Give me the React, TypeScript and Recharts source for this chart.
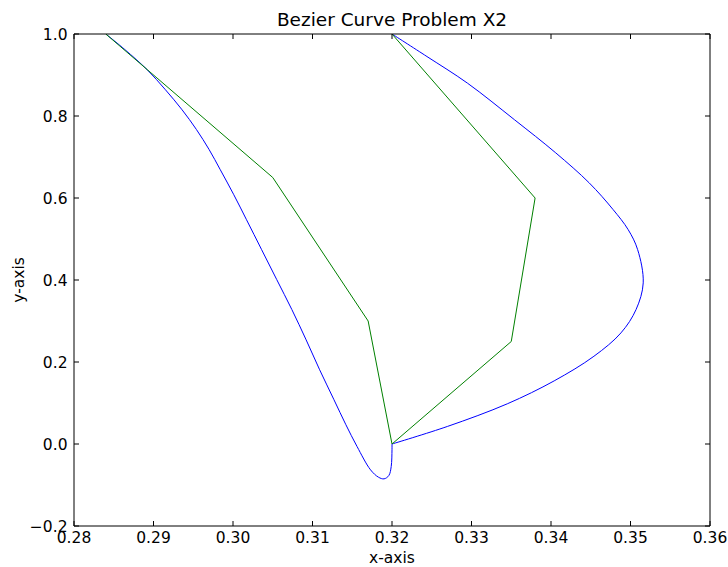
import { LineChart, Line, XAxis, YAxis } from 'recharts';

// control polygon (green)
const controlPoints = [
  { x: 0.284, y: 1.0 },
  { x: 0.305, y: 0.65 },
  { x: 0.317, y: 0.3 },
  { x: 0.32, y: 0.0 },
  { x: 0.335, y: 0.25 },
  { x: 0.338, y: 0.6 },
  { x: 0.32, y: 1.0 },
];

// first curve segment (blue)
const curveA = [
  { x: 0.284, y: 1.0 },
  { x: 0.2864, y: 0.962 },
  { x: 0.2892, y: 0.913 },
  { x: 0.2915, y: 0.864 },
  { x: 0.2936, y: 0.815 },
  { x: 0.2954, y: 0.767 },
  { x: 0.297, y: 0.718 },
  { x: 0.2984, y: 0.669 },
  { x: 0.3001, y: 0.608 },
  { x: 0.3017, y: 0.547 },
  { x: 0.3036, y: 0.474 },
  { x: 0.3055, y: 0.401 },
  { x: 0.3074, y: 0.328 },
  { x: 0.3092, y: 0.254 },
  { x: 0.3109, y: 0.181 },
  { x: 0.3127, y: 0.108 },
  { x: 0.3142, y: 0.047 },
  { x: 0.3156, y: -0.006 },
  { x: 0.3173, y: -0.063 },
  { x: 0.3183, y: -0.081 },
  { x: 0.319, y: -0.085 },
  { x: 0.3196, y: -0.077 },
  { x: 0.3199, y: -0.055 },
  { x: 0.32, y: -0.014 },
  { x: 0.32, y: 0.0 },
];

// second curve segment (blue)
const curveB = [
  { x: 0.32, y: 0.0 },
  { x: 0.327, y: 0.043 },
  { x: 0.3345, y: 0.098 },
  { x: 0.3404, y: 0.154 },
  { x: 0.3454, y: 0.214 },
  { x: 0.3488, y: 0.271 },
  { x: 0.3507, y: 0.328 },
  { x: 0.3516, y: 0.393 },
  { x: 0.3509, y: 0.474 },
  { x: 0.3497, y: 0.523 },
  { x: 0.3478, y: 0.572 },
  { x: 0.3448, y: 0.637 },
  { x: 0.3406, y: 0.71 },
  { x: 0.3354, y: 0.791 },
  { x: 0.3295, y: 0.88 },
  { x: 0.3244, y: 0.945 },
  { x: 0.32, y: 1.0 },
];

const xTicks = [0.28, 0.29, 0.3, 0.31, 0.32, 0.33, 0.34, 0.35, 0.36];
const yTicks = [-0.2, 0, 0.2, 0.4, 0.6, 0.8, 1.0];

const font = 'DejaVu Sans, sans-serif';
const fs = 15.5;

const fmtY = (v: number) => (v < 0 ? '\u2212' + Math.abs(v).toFixed(1) : v.toFixed(1));

// centripetal Catmull-Rom, so the curve goes through every read point without overshoot
const smoothCurve = (context: any) => {
  let pts: number[][] = [];
  return {
    areaStart() {},
    areaEnd() {},
    lineStart() {
      pts = [];
    },
    point(x: number, y: number) {
      pts.push([+x, +y]);
    },
    lineEnd() {
      const n = pts.length;
      if (!n) return;
      context.moveTo(pts[0][0], pts[0][1]);
      for (let i = 0; i < n - 1; i++) {
        const p0 = pts[Math.max(i - 1, 0)];
        const p1 = pts[i];
        const p2 = pts[i + 1];
        const p3 = pts[Math.min(i + 2, n - 1)];
        const l01 = Math.hypot(p1[0] - p0[0], p1[1] - p0[1]);
        const l12 = Math.hypot(p2[0] - p1[0], p2[1] - p1[1]);
        const l23 = Math.hypot(p3[0] - p2[0], p3[1] - p2[1]);
        const a01 = Math.sqrt(l01);
        const a12 = Math.sqrt(l12);
        const a23 = Math.sqrt(l23);
        let c1 = p1;
        let c2 = p2;
        if (a01 > 1e-9) {
          const a = 2 * l01 + 3 * a01 * a12 + l12;
          const m = 3 * a01 * (a01 + a12);
          c1 = [(p1[0] * a - p0[0] * l12 + p2[0] * l01) / m, (p1[1] * a - p0[1] * l12 + p2[1] * l01) / m];
        }
        if (a23 > 1e-9) {
          const b = 2 * l23 + 3 * a23 * a12 + l12;
          const m = 3 * a23 * (a23 + a12);
          c2 = [(p2[0] * b + p1[0] * l23 - p3[0] * l12) / m, (p2[1] * b + p1[1] * l23 - p3[1] * l12) / m];
        }
        context.bezierCurveTo(c1[0], c1[1], c2[0], c2[1], p2[0], p2[1]);
      }
    },
  };
};

// matplotlib-style ticks pointing into the plot
const BottomTick = ({ x, y, payload }: any) => (
  <g>
    <line x1={x} y1={y} x2={x} y2={y - 5} stroke="#000" />
    <text x={x} y={y + 17} textAnchor="middle" fontSize={fs} fontFamily={font} fill="#000">
      {payload.value.toFixed(2)}
    </text>
  </g>
);
const LeftTick = ({ x, y, payload }: any) => (
  <g>
    <line x1={x} y1={y} x2={x + 5} y2={y} stroke="#000" />
    <text x={x - 6.5} y={y + 5.6} textAnchor="end" fontSize={fs} fontFamily={font} fill="#000">
      {fmtY(payload.value)}
    </text>
  </g>
);
const TopTick = ({ x, y }: any) => <line x1={x} y1={y} x2={x} y2={y + 5} stroke="#000" />;
const RightTick = ({ x, y }: any) => <line x1={x} y1={y} x2={x - 5} y2={y} stroke="#000" />;

export default function App() {
  return (
    <div style={{ position: 'absolute', left: 0, top: 0, width: 728, height: 567, background: '#fff' }}>
      <LineChart width={728} height={567} margin={{ top: 33, right: 17, left: 14, bottom: 11 }}>
        <XAxis
          type="number"
          dataKey="x"
          domain={[0.28, 0.36]}
          ticks={xTicks}
          allowDataOverflow
          tick={<BottomTick />}
          tickLine={false}
          tickSize={0}
          tickMargin={0}
          height={30}
          stroke="#000"
          interval={0}
        />
        <XAxis
          xAxisId="top"
          orientation="top"
          type="number"
          dataKey="x"
          domain={[0.28, 0.36]}
          ticks={xTicks}
          allowDataOverflow
          tick={<TopTick />}
          tickLine={false}
          tickSize={0}
          tickMargin={0}
          height={1}
          stroke="#000"
          interval={0}
        />
        <YAxis
          type="number"
          domain={[-0.2, 1.0]}
          ticks={yTicks}
          allowDataOverflow
          tick={<LeftTick />}
          tickLine={false}
          tickSize={0}
          tickMargin={0}
          width={60}
          stroke="#000"
          interval={0}
        />
        <YAxis
          yAxisId="right"
          orientation="right"
          type="number"
          domain={[-0.2, 1.0]}
          ticks={yTicks}
          allowDataOverflow
          tick={<RightTick />}
          tickLine={false}
          tickSize={0}
          tickMargin={0}
          width={1}
          stroke="#000"
          interval={0}
        />
        <Line
          data={curveA}
          dataKey="y"
          type={smoothCurve as any}
          stroke="#0000ff"
          strokeWidth={1}
          dot={false}
          isAnimationActive={false}
        />
        <Line
          data={curveB}
          dataKey="y"
          type={smoothCurve as any}
          stroke="#0000ff"
          strokeWidth={1}
          dot={false}
          isAnimationActive={false}
        />
        <Line
          data={controlPoints}
          dataKey="y"
          xAxisId="top"
          yAxisId="right"
          type="linear"
          stroke="#008000"
          strokeWidth={1}
          dot={false}
          isAnimationActive={false}
        />
      </LineChart>
      <svg width={728} height={567} style={{ position: 'absolute', left: 0, top: 0, pointerEvents: 'none' }}>
        <text x={392} y={26} textAnchor="middle" fontSize={18.5} fontFamily={font} fill="#000">
          Bezier Curve Problem X2
        </text>
        <text x={392} y={563} textAnchor="middle" fontSize={fs} fontFamily={font} fill="#000">
          x-axis
        </text>
        <text
          x={0}
          y={0}
          transform="translate(23.5,280) rotate(-90)"
          textAnchor="middle"
          fontSize={fs}
          fontFamily={font}
          fill="#000"
        >
          y-axis
        </text>
      </svg>
    </div>
  );
}
